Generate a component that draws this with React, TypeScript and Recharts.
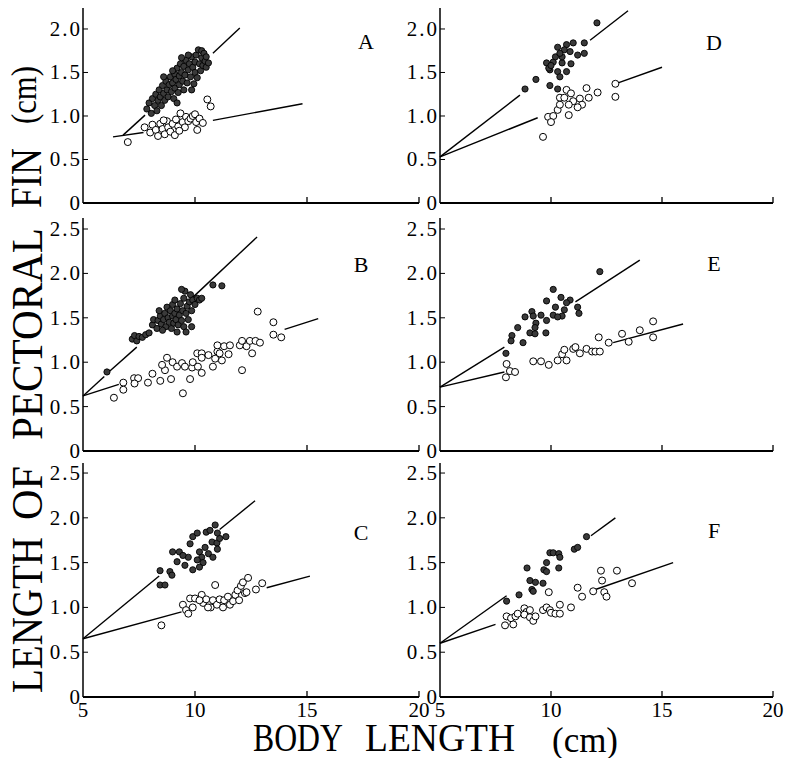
import { ScatterChart, Scatter, XAxis, YAxis, ReferenceLine } from "recharts";

type Pt = [number, number];
type Seg = [number, number, number, number];

const xTicks = [5, 10, 15, 20];
const yTicksLow = [0, 0.5, 1, 1.5, 2];
const yTicksHigh = [0, 0.5, 1, 1.5, 2, 2.5];

// A
const aFilled: Pt[] = [
  [7.85, 1.08], [7.95, 1.15], [8.05, 1.03], [8.1, 1.2], [8.2, 1.12], [8.25, 1.25], [8.3, 1.06], [8.35, 1.18],
  [8.4, 1.3], [8.45, 1.22], [8.5, 1.12], [8.55, 1.35], [8.6, 1.26], [8.65, 1.18], [8.7, 1.4], [8.75, 1.3],
  [8.8, 1.22], [8.85, 1.36], [8.9, 1.45], [8.95, 1.28], [9.0, 1.38], [9.05, 1.2], [9.1, 1.48], [9.1, 1.32],
  [9.15, 1.42], [9.2, 1.55], [9.25, 1.27], [9.3, 1.46], [9.3, 1.36], [9.35, 1.6], [9.4, 1.5], [9.45, 1.4],
  [9.5, 1.57], [9.5, 1.3], [9.55, 1.47], [9.6, 1.64], [9.65, 1.38], [9.7, 1.53], [9.75, 1.6], [9.8, 1.45],
  [9.85, 1.68], [9.9, 1.56], [9.95, 1.37], [10.0, 1.62], [10.0, 1.5], [10.05, 1.7], [10.1, 1.44], [10.15, 1.76],
  [10.2, 1.6], [10.25, 1.52], [10.3, 1.67], [10.3, 1.75], [10.35, 1.58], [10.4, 1.72], [10.45, 1.63], [10.5, 1.56],
  [10.5, 1.68], [10.6, 1.61], [9.0, 1.52], [8.6, 1.45], [9.4, 1.67], [9.7, 1.7], [9.85, 1.3], [9.2, 1.15],
];
const aOpen: Pt[] = [
  [7.0, 0.7], [7.75, 0.87], [8.0, 0.81], [8.1, 0.9], [8.25, 0.84], [8.35, 0.77], [8.45, 0.91], [8.55, 0.85],
  [8.65, 0.79], [8.75, 0.94], [8.8, 0.87], [8.9, 0.82], [9.0, 0.91], [9.1, 0.78], [9.15, 0.96], [9.25, 0.88],
  [9.35, 1.03], [9.45, 0.93], [9.55, 0.87], [9.6, 0.99], [9.7, 0.94], [9.8, 0.97], [9.9, 1.0], [10.0, 1.02],
  [10.05, 0.93], [10.1, 0.84], [10.2, 0.97], [10.35, 0.92], [10.55, 1.19], [10.7, 1.11], [8.6, 0.95], [9.3, 0.83],
];
const aLines: Seg[] = [[6.79, 0.78, 7.77, 1.01], [10.8, 1.72, 12.0, 2.01], [6.34, 0.76, 7.7, 0.81], [10.8, 0.95, 14.8, 1.14]];

// B
const bFilled: Pt[] = [
  [6.07, 0.89], [7.2, 1.26], [7.3, 1.3], [7.4, 1.24], [7.5, 1.29], [7.65, 1.28], [7.8, 1.31], [7.95, 1.33],
  [8.1, 1.42], [8.15, 1.48], [8.3, 1.38], [8.35, 1.47], [8.45, 1.52], [8.5, 1.43], [8.6, 1.48], [8.65, 1.55],
  [8.7, 1.4], [8.75, 1.62], [8.8, 1.5], [8.85, 1.45], [8.9, 1.58], [8.95, 1.38], [9.0, 1.52], [9.0, 1.65],
  [9.05, 1.44], [9.1, 1.55], [9.15, 1.48], [9.2, 1.6], [9.2, 1.34], [9.25, 1.42], [9.3, 1.53], [9.35, 1.66],
  [9.4, 1.47], [9.45, 1.58], [9.5, 1.4], [9.5, 1.72], [9.55, 1.8], [9.6, 1.55], [9.65, 1.63], [9.7, 1.48],
  [9.75, 1.68], [9.8, 1.76], [9.85, 1.58], [9.9, 1.7], [10.0, 1.65], [10.1, 1.72], [10.2, 1.7], [10.3, 1.72],
  [9.4, 1.82], [9.1, 1.7], [8.55, 1.36], [9.85, 1.4], [10.8, 1.87], [11.2, 1.86], [8.4, 1.58], [9.6, 1.34],
];
const bOpen: Pt[] = [
  [6.38, 0.6], [6.8, 0.77], [6.8, 0.69], [7.28, 0.82], [7.46, 0.82], [7.3, 0.76], [7.9, 0.77], [8.1, 0.87],
  [8.45, 0.79], [8.66, 0.91], [8.53, 0.97], [8.75, 1.05], [8.93, 0.81], [9.0, 1.0], [9.2, 0.95], [9.46, 0.65],
  [9.42, 0.99], [9.55, 0.95], [9.78, 0.81], [9.87, 0.94], [9.9, 1.0], [10.1, 1.1], [10.13, 0.95], [10.3, 0.88],
  [10.3, 1.1], [10.3, 1.05], [10.6, 1.08], [10.8, 0.95], [10.9, 1.04], [11.0, 1.12], [11.0, 1.19], [11.1, 1.1],
  [11.2, 1.02], [11.3, 1.18], [11.5, 1.09], [11.56, 1.19], [12.1, 0.91], [12.0, 1.19], [12.1, 1.24], [12.3, 1.18],
  [12.45, 1.24], [12.55, 1.1], [12.7, 1.24], [12.8, 1.57], [12.9, 1.22], [13.5, 1.45], [13.5, 1.31], [13.85, 1.28],
];
const bLines: Seg[] = [[5, 0.62, 5.95, 0.84], [6.2, 0.9, 7.4, 1.17], [9.9, 1.73, 12.77, 2.41], [5, 0.62, 6.6, 0.75], [14.0, 1.37, 15.5, 1.49]];

// C
const cFilled: Pt[] = [
  [8.44, 1.25], [8.66, 1.25], [8.44, 1.41], [8.88, 1.4], [8.97, 1.36], [9.0, 1.62], [9.3, 1.62], [9.2, 1.51],
  [9.55, 1.47], [9.7, 1.56], [9.9, 1.42], [9.78, 1.71], [9.9, 1.79], [10.1, 1.83], [10.2, 1.62], [10.3, 1.56],
  [10.36, 1.5], [10.45, 1.67], [10.5, 1.84], [10.67, 1.86], [10.76, 1.73], [10.6, 1.6], [10.8, 1.56], [10.9, 1.92],
  [10.98, 1.72], [11.0, 1.65], [11.1, 1.77], [11.0, 1.83], [11.38, 1.79], [10.2, 1.45], [10.1, 1.53], [9.46, 1.58],
];
const cOpen: Pt[] = [
  [8.5, 0.8], [9.46, 1.03], [9.6, 0.97], [9.7, 0.93], [9.78, 1.1], [9.9, 1.0], [10.0, 1.1], [10.3, 1.14],
  [10.36, 1.05], [10.5, 1.09], [10.7, 1.0], [10.8, 1.08], [10.9, 1.25], [10.98, 1.03], [11.1, 1.09], [11.25, 1.0],
  [11.3, 1.08], [11.47, 1.12], [11.56, 1.03], [11.7, 1.07], [11.8, 1.14], [11.9, 1.19], [11.97, 1.08], [12.05, 1.24],
  [12.14, 1.28], [12.23, 1.16], [12.37, 1.33], [12.3, 1.17], [12.72, 1.2], [13.0, 1.27], [10.2, 1.08], [10.58, 1.0],
];
const cLines: Seg[] = [[5, 0.65, 8.4, 1.35], [11.1, 1.87, 12.68, 2.19], [5, 0.65, 9.4, 0.95], [13.2, 1.22, 15.13, 1.35]];

// D
const dFilled: Pt[] = [
  [8.83, 1.31], [9.32, 1.42], [9.95, 1.35], [10.3, 1.31], [9.8, 1.61], [10.3, 1.79], [10.7, 1.82], [11.0, 1.84],
  [11.5, 1.84], [11.5, 1.72], [11.2, 1.7], [12.07, 2.07], [10.3, 1.51], [10.7, 1.51], [10.5, 1.61], [10.9, 1.6],
  [9.95, 1.53], [10.4, 1.45], [10.5, 1.68], [10.6, 1.76], [10.86, 1.74], [10.1, 1.62], [9.9, 1.55], [10.2, 1.68],
  [10.4, 1.72], [10.0, 1.58],
];
const dOpen: Pt[] = [
  [9.64, 0.76], [9.87, 0.99], [10.1, 1.0], [10.0, 0.93], [10.3, 1.07], [10.4, 1.21], [10.7, 1.3], [10.6, 1.21],
  [10.9, 1.26], [11.0, 1.17], [10.8, 1.13], [10.8, 1.01], [11.3, 1.2], [11.4, 1.13], [11.2, 1.1], [11.6, 1.32],
  [11.7, 1.21], [12.1, 1.27], [12.9, 1.37], [12.9, 1.22], [10.4, 1.13],
];
const dLines: Seg[] = [[5, 0.53, 8.6, 1.24], [11.76, 1.87, 13.47, 2.21], [5, 0.53, 9.4, 0.98], [12.8, 1.36, 15.0, 1.56]];

// E
const eFilled: Pt[] = [
  [12.2, 2.02], [10.1, 1.82], [10.45, 1.73], [10.86, 1.7], [9.8, 1.69], [10.7, 1.67], [10.6, 1.59], [11.2, 1.62],
  [11.26, 1.55], [10.2, 1.62], [10.1, 1.53], [10.5, 1.52], [10.3, 1.51], [9.55, 1.53], [9.14, 1.57], [9.2, 1.52],
  [8.83, 1.51], [9.8, 1.47], [9.32, 1.44], [9.28, 1.39], [8.5, 1.39], [9.05, 1.33], [9.28, 1.32], [9.77, 1.33],
  [8.24, 1.3], [8.2, 1.24], [8.74, 1.22], [7.97, 1.1],
];
const eOpen: Pt[] = [
  [7.97, 0.83], [8.0, 0.98], [8.15, 0.9], [8.38, 0.89], [9.2, 1.01], [9.55, 1.01], [9.9, 0.97], [10.3, 1.02],
  [10.5, 1.09], [10.7, 1.02], [10.6, 1.14], [11.0, 1.15], [11.1, 1.17], [11.3, 1.1], [11.6, 1.15], [11.85, 1.12],
  [12.0, 1.12], [12.2, 1.12], [12.15, 1.28], [12.6, 1.22], [13.2, 1.32], [13.5, 1.23], [14.0, 1.36], [14.6, 1.46],
  [14.6, 1.28],
];
const eLines: Seg[] = [[5, 0.72, 7.9, 1.17], [11.1, 1.68, 14.0, 2.15], [5, 0.72, 7.9, 0.89], [12.8, 1.22, 15.95, 1.43]];

// F
const fFilled: Pt[] = [
  [8.0, 1.07], [8.56, 1.14], [9.05, 1.3], [9.14, 1.2], [9.2, 1.18], [8.92, 1.44], [9.64, 1.27], [9.68, 1.42],
  [9.8, 1.4], [9.8, 1.5], [10.35, 1.44], [9.95, 1.61], [10.1, 1.61], [10.35, 1.6], [10.4, 1.56], [11.05, 1.65],
  [11.2, 1.67], [11.6, 1.79], [9.3, 1.28],
];
const fOpen: Pt[] = [
  [7.93, 0.8], [8.0, 0.9], [8.2, 0.88], [8.3, 0.81], [8.4, 0.9], [8.5, 0.93], [8.8, 0.99], [8.9, 0.95],
  [9.05, 0.97], [8.8, 0.92], [9.05, 0.89], [9.2, 0.85], [9.3, 0.9], [9.64, 0.97], [9.8, 1.0], [9.95, 0.97],
  [10.0, 0.94], [10.2, 0.93], [10.4, 1.03], [10.4, 0.93], [9.9, 1.17], [10.9, 1.0], [11.2, 1.22], [11.4, 1.12],
  [11.9, 1.18], [12.4, 1.17], [12.5, 1.12], [12.3, 1.3], [12.25, 1.41], [12.97, 1.41], [13.65, 1.27],
];
const fLines: Seg[] = [[5, 0.6, 8.0, 1.13], [11.8, 1.8, 12.9, 2.0], [5, 0.6, 7.5, 0.81], [12.0, 1.2, 15.5, 1.5]];

const serif = "'Liberation Serif', 'DejaVu Serif', serif";

const cols = {
  left: { left: 0, yAxisWidth: 83, width: 433, marginRight: 14 },
  right: { left: 400, yAxisWidth: 40, width: 385, marginRight: 12 },
};
const rows = {
  top: { top: 0, height: 217, xAxisHeight: 14, yMax: 2.241, ticks: yTicksLow, labels: false },
  mid: { top: 210, height: 255, xAxisHeight: 14, yMax: 2.624, ticks: yTicksHigh, labels: false },
  bottom: { top: 455, height: 272, xAxisHeight: 30, yMax: 2.612, ticks: yTicksHigh, labels: true },
};

const FilledDot = (p: any) => (
  <circle cx={p.cx} cy={p.cy} r={3.1} fill="#3a3a3a" stroke="#000" strokeWidth={0.9} />
);
const OpenDot = (p: any) => (
  <circle cx={p.cx} cy={p.cy} r={3.5} fill="#fff" stroke="#000" strokeWidth={1} />
);

const toXY = (pts: Pt[]) => pts.map(([x, y]) => ({ x, y }));

interface PanelProps {
  col: keyof typeof cols;
  row: keyof typeof rows;
  filled: Pt[];
  open: Pt[];
  lines: Seg[];
}

function Panel({ col, row, filled, open, lines }: PanelProps) {
  const c = cols[col];
  const r = rows[row];
  const xTick = (p: any) => (
    <g>
      {p.payload.value !== 5 && (
        <line x1={p.x} x2={p.x} y1={p.y} y2={p.y - 6} stroke="#000" strokeWidth={1.3} />
      )}
      {r.labels && (
        <text x={p.x} y={p.y + 20} textAnchor="middle" style={{ fontFamily: serif, fontSize: 21 }} fill="#000">
          {p.payload.value}
        </text>
      )}
    </g>
  );
  const yTick = (p: any) => (
    <g>
      <line x1={p.x} x2={p.x + 5} y1={p.y} y2={p.y} stroke="#000" strokeWidth={1} />
      <text
        x={p.x - 1}
        y={p.y + 7}
        textAnchor="end"
        style={{ fontFamily: serif, fontSize: 21, letterSpacing: 2 }}
        fill="#000"
      >
        {p.payload.value === 0 ? "0" : p.payload.value.toFixed(1)}
      </text>
    </g>
  );
  return (
    <div style={{ position: "absolute", left: c.left, top: r.top }}>
      <ScatterChart
        width={c.width}
        height={r.height}
        margin={{ top: 8, right: c.marginRight, bottom: 0, left: 0 }}
      >
        <XAxis
          type="number"
          dataKey="x"
          domain={[5, 20]}
          ticks={xTicks}
          allowDataOverflow
          interval={0}
          height={r.xAxisHeight}
          tickSize={0}
          tickMargin={0}
          tickLine={false}
          axisLine={{ stroke: "#000", strokeWidth: 1.8 }}
          tick={xTick}
        />
        <YAxis
          type="number"
          dataKey="y"
          domain={[0, r.yMax]}
          ticks={r.ticks}
          allowDataOverflow
          interval={0}
          width={c.yAxisWidth}
          tickSize={0}
          tickMargin={0}
          tickLine={false}
          axisLine={{ stroke: "#000", strokeWidth: 1.5 }}
          tick={yTick}
        />
        {lines.map((s, i) => (
          <ReferenceLine
            key={i}
            segment={[{ x: s[0], y: s[1] }, { x: s[2], y: s[3] }]}
            stroke="#000"
            strokeWidth={1.4}
            ifOverflow="visible"
          />
        ))}
        <Scatter data={toXY(open)} shape={OpenDot} isAnimationActive={false} />
        <Scatter data={toXY(filled)} shape={FilledDot} isAnimationActive={false} />
      </ScatterChart>
    </div>
  );
}

const panelLetters: { t: string; x: number; y: number }[] = [
  { t: "A", x: 366, y: 49 },
  { t: "B", x: 361, y: 272 },
  { t: "C", x: 361, y: 540 },
  { t: "D", x: 714, y: 50 },
  { t: "E", x: 714, y: 271 },
  { t: "F", x: 714, y: 538 },
];

// y title words: text, baseline x, start y, length, font size
const yTitle: [string, number, number, number, number][] = [
  ["LENGTH", 42, 693, 156, 44],
  ["OF", 42, 520, 54, 44],
  ["PECTORAL", 42, 440, 212, 44],
  ["FIN", 41, 208, 60, 44],
  ["(cm)", 36, 124, 58, 35],
];
// x title words: text, x, baseline y, length, font size
const xTitle: [string, number, number, number, number][] = [
  ["BODY", 253, 751, 90, 41],
  ["LENGTH", 365, 751, 150, 41],
  ["(cm)", 552, 752, 66, 35],
];

export default function App() {
  return (
    <div style={{ position: "absolute", left: 0, top: 0, width: 785, height: 758, background: "#fff" }}>
      <Panel col="left" row="top" filled={aFilled} open={aOpen} lines={aLines} />
      <Panel col="left" row="mid" filled={bFilled} open={bOpen} lines={bLines} />
      <Panel col="left" row="bottom" filled={cFilled} open={cOpen} lines={cLines} />
      <Panel col="right" row="top" filled={dFilled} open={dOpen} lines={dLines} />
      <Panel col="right" row="mid" filled={eFilled} open={eOpen} lines={eLines} />
      <Panel col="right" row="bottom" filled={fFilled} open={fOpen} lines={fLines} />
      <svg
        width={785}
        height={758}
        style={{ position: "absolute", left: 0, top: 0, pointerEvents: "none" }}
      >
        {panelLetters.map((l) => (
          <text key={l.t} x={l.x} y={l.y} textAnchor="middle" fontFamily={serif} fontSize={22} fill="#000">
            {l.t}
          </text>
        ))}
        {yTitle.map(([t, bx, by, len, fs]) => (
          <text
            key={t + by}
            transform={`translate(${bx},${by}) rotate(-90)`}
            textLength={len}
            lengthAdjust="spacingAndGlyphs"
            fontFamily={serif}
            fontSize={fs}
            fill="#000"
          >
            {t}
          </text>
        ))}
        {xTitle.map(([t, x, y, len, fs]) => (
          <text
            key={t + x}
            x={x}
            y={y}
            textLength={len}
            lengthAdjust="spacingAndGlyphs"
            fontFamily={serif}
            fontSize={fs}
            fill="#000"
          >
            {t}
          </text>
        ))}
      </svg>
    </div>
  );
}
